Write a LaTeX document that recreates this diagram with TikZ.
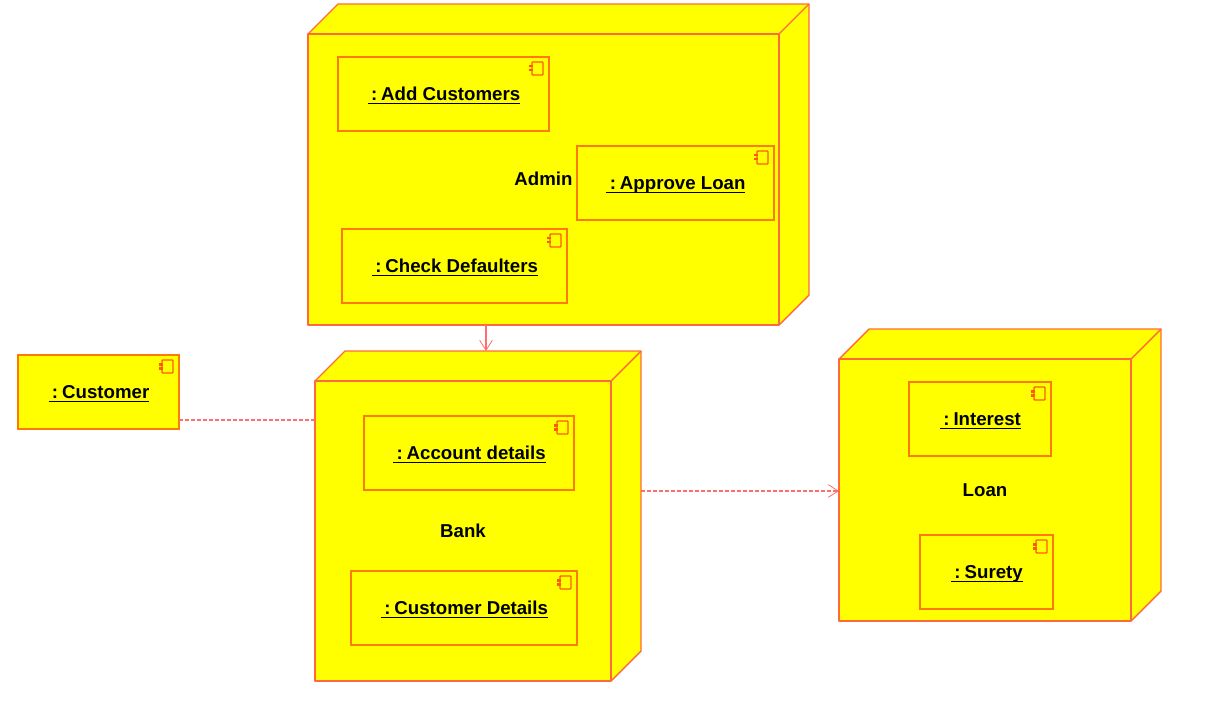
\documentclass[tikz,border=0pt]{standalone}
\usepackage{fontspec}
\setmainfont{Liberation Sans}
\usetikzlibrary{arrows.meta}
\definecolor{pureyellow}{RGB}{255,255,0}
\definecolor{nodeline}{RGB}{255,106,60}
\definecolor{innerline}{RGB}{255,122,0}
\definecolor{connline}{RGB}{255,110,110}
\definecolor{iconline}{RGB}{255,90,0}
\newcommand{\ulabel}[1]{\setbox0\hbox{\ \kern-1.3pt:\kern3pt #1}\rlap{\rule[-2.7pt]{\wd0}{1.1pt}}\box0}
\tikzset{
  x=0.75pt,y=-0.75pt,
  every node/.style={font=\fontsize{14}{16}\selectfont\bfseries,text=black},
  facebox/.style={draw=nodeline,fill=pureyellow,line width=1.05pt,inner sep=0pt,outer sep=0pt,line join=bevel,text height=11.5pt,text depth=2.2pt},
  sidebox/.style={draw=nodeline,fill=pureyellow,line width=1.05pt,line join=bevel},
  compbox/.style={draw=innerline,fill=pureyellow,line width=1.05pt,inner sep=0pt,outer sep=0pt,text height=11.7pt,text depth=2pt},
  iconbox/.style={draw=iconline,fill=pureyellow,line width=1pt,rounded corners=0.6pt},
  iconbit/.style={fill=iconline},
  dep/.style={draw=connline,line width=1pt},
  depdash/.style={dep,dash pattern=on 3pt off 1.5pt},
  barb/.style={-{Straight Barb[length=7.5pt,width=9.5pt,line width=0.6pt]}},
}
% name, x1, y1, x2, y2, label, depth 30
\newcommand{\cubenode}[6]{%
  \draw[sidebox] (#2,#3) -- (#2+30,#3-30) -- (#4+30,#3-30) -- (#4+30,#5-30) -- (#4,#5) -- (#4,#3) -- cycle;
  \draw[sidebox] (#4,#3) -- (#4+30,#3-30);
  \node[facebox,anchor=north west,minimum width={(#4-#2)*0.75pt},minimum height={(#5-#3)*0.75pt}] (#1) at (#2,#3) {#6};
}
\newcommand{\compnode}[6]{%
  \node[compbox,anchor=north west,minimum width={(#4-#2)*0.75pt},minimum height={(#5-#3)*0.75pt}] (#1) at (#2,#3) {\kern0.6pt\ulabel{#6}};
  \draw[iconbox] (#4-17,#3+5) rectangle (#4-6,#3+18);
  \fill[iconbit] (#4-20,#3+8) rectangle (#4-16.5,#3+10.5);
  \fill[iconbit] (#4-20,#3+12) rectangle (#4-16.5,#3+14.5);
}
\begin{document}
\begin{tikzpicture}
\useasboundingbox (0,0) rectangle (1216,709);
\fill[white] (0,0) rectangle (1216,709);
\cubenode{admin}{308}{34}{779}{325}{Admin}
\cubenode{bank}{315}{381}{611}{681}{Bank}
\cubenode{loan}{839}{359}{1131}{621}{Loan}

\compnode{addcust}{338}{57}{549}{131}{Add Customers}
\compnode{approve}{577}{146}{774}{220}{Approve Loan}
\compnode{check}{342}{229}{567}{303}{Check Defaulters}
\compnode{customer}{18}{355}{179}{429}{Customer}
\compnode{account}{364}{416}{574}{490}{Account details}
\compnode{custdet}{351}{571}{577}{645}{Customer Details}
\compnode{interest}{909}{382}{1051}{456}{Interest}
\compnode{surety}{920}{535}{1053}{609}{Surety}

\coordinate (adminx) at (486,351);
\coordinate (custy) at (315,420);
\coordinate (banky) at (641,491);
\draw[dep,barb] (admin.south -| adminx) -- (adminx);
\draw[depdash] (customer.east |- custy) -- (bank.west |- custy);
\draw[depdash,barb] (banky) -- (loan.west |- banky);
\end{tikzpicture}
\end{document}
